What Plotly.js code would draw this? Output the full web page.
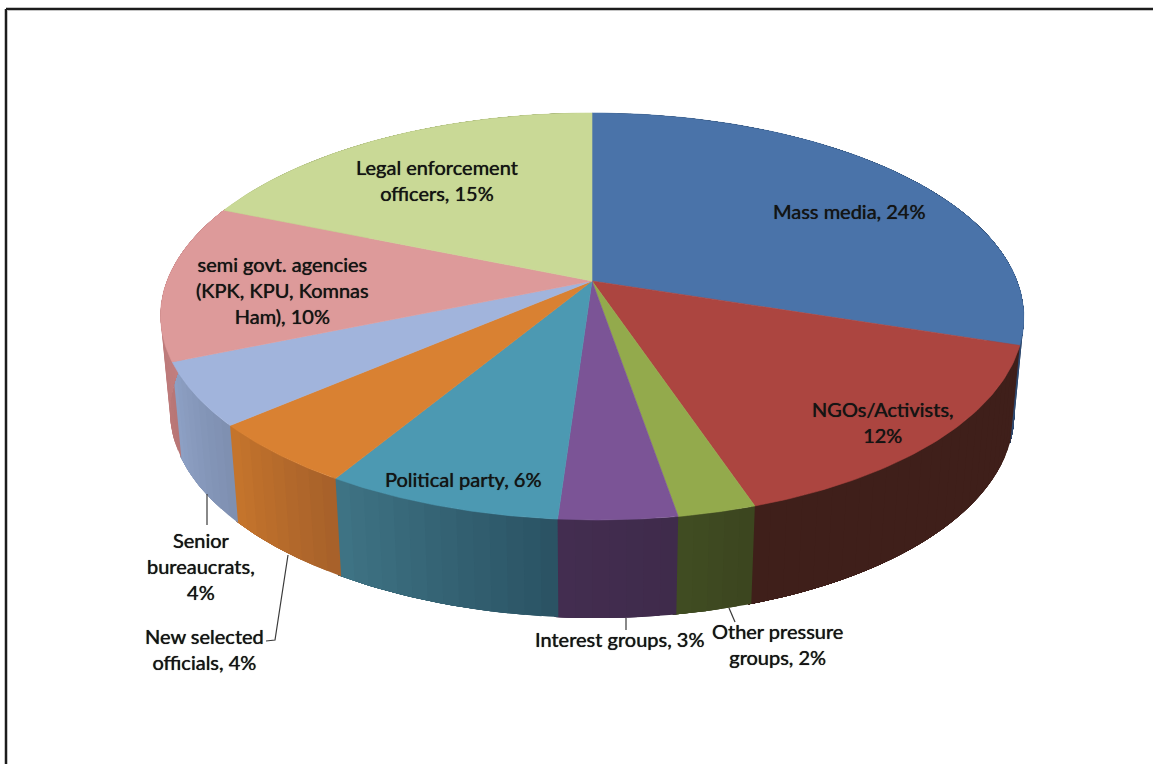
<!DOCTYPE html>
<html>
<head>
<meta charset="utf-8">
<script src="https://cdn.plot.ly/plotly-3.0.1.min.js"></script>
<style>html,body{margin:0;padding:0;background:#fff;overflow:hidden}#chart{width:1153px;height:764px}</style>
</head>
<body>
<div id="chart"></div>
<script>
// Actors and their shares, clockwise from twelve o'clock
const names = ["Mass media", "NGOs/Activists", "Other pressure<br>groups", "Interest groups",
  "Political party", "Senior<br>bureaucrats", "New selected<br>officials",
  "semi govt. agencies<br>(KPK, KPU, Komnas<br>Ham)", "Legal enforcement<br>officers"];
const shares = [24, 12, 2, 3, 6, 4, 4, 10, 15];
const separators = [", ", ",<br>", ", ", ", ", ", ", ",<br>", ", ", ", ", ", "];

// Face colour and the wall colour at each slice's left and right end
const topColors = ["#4a73a9", "#ac4540", "#93aa4c", "#7b5496", "#4c99b2", "#d98132", "#a1b4dc", "#dd9a9a", "#c9d996"];
const wallLeft  = ["#2f4a70", "#3f1f1a", "#414d22", "#432d50", "#3f7485", "#c6752c", "#8ea1c5", "#c98686", "#a8b67c"];
const wallRight = ["#26405f", "#3f1f1a", "#3b451f", "#3f2b4b", "#2a5263", "#a6602a", "#7e8fb0", "#b87676", "#98a670"];

// Label anchors in page pixels, one per slice
const labelX = [849, 883, 777, 619, 463, 201, 204, 282, 437];
const labelY = [211, 422, 644, 639, 479, 566, 649, 290, 180];

// Leader polylines as [x...], [y...] pairs
const leaders = [
  [[207, 207], [494, 525]],
  [[288, 275, 266], [555, 640, 641]],
  [[626, 626], [618, 630]],
  [[729, 735], [608, 622]]
];

// Perspective projection of the unit disc onto the page
const cx = 592, cy = 281, sx = 425, sy = 197.3, persp = -0.1744;
const wallDepth = 98, wallShrink = 0.978, frontSkew = 6;

function rim(deg, lower) {
  const t = deg * Math.PI / 180, u = Math.sin(t), v = -Math.cos(t), w = 1 + persp * v;
  const x = sx * u / w + (v > 0 ? frontSkew * v * v : 0), y = sy * v / w;
  if (!lower) return [cx + x, cy + y];
  return [cx + wallShrink * x, cy + y + wallDepth - 5 * (1 - v) / 2];
}

function mix(a, b, f) {
  const p = c => [1, 3, 5].map(i => parseInt(c.substr(i, 2), 16));
  const A = p(a), B = p(b);
  return "rgb(" + A.map((n, i) => Math.round(n + (B[i] - n) * f)).join(",") + ")";
}

function polygon(xs, ys, color, stroke) {
  return {
    type: "scatter", mode: "lines", x: xs, y: ys, fill: "toself", fillcolor: color,
    line: {color: color, width: stroke}, hoverinfo: "skip", showlegend: false
  };
}

const total = shares.reduce((a, b) => a + b, 0);
const walls = [], faces = [];
let start = 0;
shares.forEach((value, i) => {
  const sweep = value / total * 360, end = start + sweep;
  // Wall: each band runs on to the slice's far end and the next band paints over it,
  // which leaves no hairline between shades
  const bands = Math.max(4, Math.round(sweep / 2));
  for (let k = 0; k < bands; k++) {
    const a = start + sweep * k / bands, stop = end + 0.4;
    const upper = [], lower = [];
    for (let j = 0; j <= 24; j++) {
      const d = a + (stop - a) * j / 24;
      upper.push(rim(d));
      lower.unshift(rim(d, true));
    }
    const ring = upper.concat(lower);
    // The wall runs right to left along the front of the disc
    walls.push(polygon(ring.map(p => p[0]), ring.map(p => p[1]),
      mix(wallRight[i], wallLeft[i], (k + 0.5) / bands), 0));
  }
  // Top face
  const xs = [cx], ys = [cy];
  for (let j = 0; j <= 60; j++) {
    const p = rim(start + sweep * j / 60); xs.push(p[0]); ys.push(p[1]);
  }
  xs.push(cx); ys.push(cy);
  faces.push(polygon(xs, ys, topColors[i], 0.6));
  start = end;
});

const leaderTraces = leaders.map(l => ({
  type: "scatter", mode: "lines", x: l[0], y: l[1],
  line: {color: "#3a3a3a", width: 1.2}, hoverinfo: "skip", showlegend: false
}));

const annotations = names.map((n, i) => ({
  x: labelX[i], y: labelY[i], xref: "x", yref: "y", showarrow: false,
  text: n + separators[i] + shares[i] + "%",
  font: {family: "Lato, sans-serif", size: 20, color: "#141414", shadow: "0 0 0.7px #141414"},
  align: "center", xanchor: "center", yanchor: "middle"
}));

// Page frame along the top and left edges
const frame = [["#c4c4c4", 4], ["#1c1c1c", 2]].flatMap(([c, w]) => [
  {type: "line", xref: "x", yref: "y", x0: 6, x1: 1153, y0: 9, y1: 9, line: {color: c, width: w}},
  {type: "line", xref: "x", yref: "y", x0: 6, x1: 6, y0: 9, y1: 764, line: {color: c, width: w}}
]);

const hidden = {visible: false, fixedrange: true};
Plotly.newPlot("chart", walls.concat(faces, leaderTraces), {
  width: 1153, height: 764, margin: {l: 0, r: 0, t: 0, b: 0},
  paper_bgcolor: "#fff", plot_bgcolor: "#fff", showlegend: false,
  xaxis: Object.assign({range: [0, 1153]}, hidden),
  yaxis: Object.assign({range: [764, 0]}, hidden),
  shapes: frame, annotations: annotations
}, {displayModeBar: false, staticPlot: true});
</script>
</body>
</html>
